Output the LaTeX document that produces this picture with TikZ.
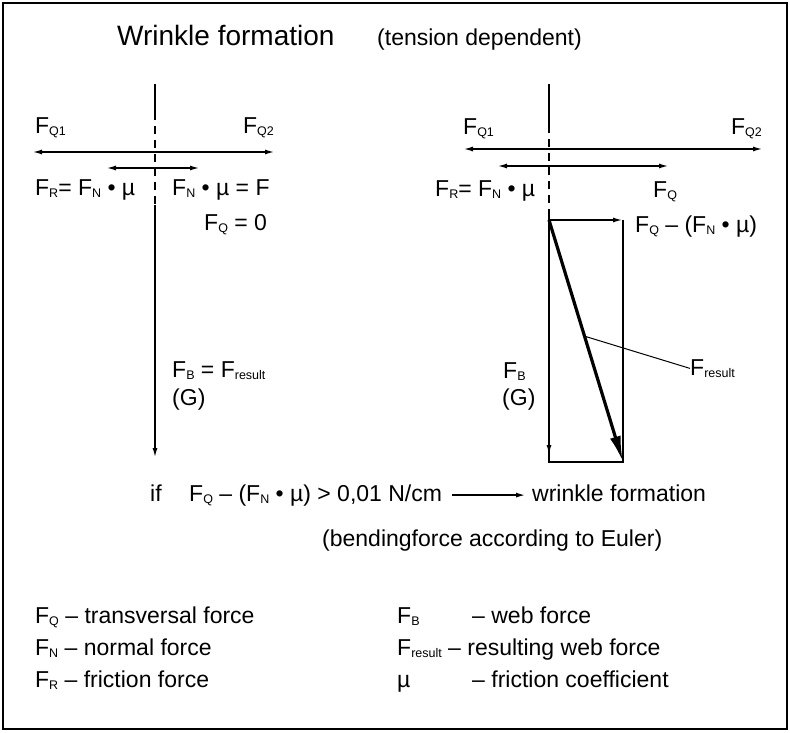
\documentclass[tikz,border=0pt]{standalone}
\usepackage{fontspec}
\setmainfont{Liberation Sans}
\usepackage{tikz}
\usetikzlibrary{arrows.meta, positioning, calc}

% lowered small index for force symbols
\newcommand{\ix}[1]{\raisebox{-2.5pt}{\fontsize{12.5}{12.5}\selectfont #1}}

\begin{document}
\begin{tikzpicture}[
  x=1pt, y=-1pt,
  every node/.style={font=\fontsize{23}{27}\selectfont, inner sep=0pt},
  txt/.style={anchor=base west},
  txtr/.style={anchor=base east},
  axisline/.style={line width=1.8pt},
  midline/.style={line width=1.8pt, dash pattern=on 8pt off 6pt},
  force/.style={-{Latex[length=10pt,width=5pt]}, line width=1.8pt},
  resultant/.style={-{Latex[length=26pt,width=11pt]}, line width=3.2pt},
  leader/.style={line width=1pt},
]
\useasboundingbox (0,0) rectangle (790,732);

% Frame
\draw[line width=1.8pt] (3,3) rectangle (787,729);

% Title
\node[txt, font=\fontsize{28}{32}\selectfont] (title) at (117,45) {Wrinkle formation};
\node[txt] (tension) at (377,45) {(tension dependent)};

% Left diagram: web axis and forces
\coordinate (Ltop) at (155,84);
\coordinate (Ld1) at (155,112);
\coordinate (Ld2) at (155,205);
\coordinate (Lbot) at (155,458);
\coordinate (Lq) at (155,152);
\coordinate (Lf) at (155,168);
\coordinate (Lq1) at (32,152);
\coordinate (Lq2) at (275,152);
\coordinate (Lr1) at (106,168);
\coordinate (Lr2) at (200,168);

\draw[axisline] (Ltop) -- (Ld1);
\draw[midline] (Ld1) -- (Ld2);
\draw[force] (Ld2) -- (Lbot);
\draw[force] (Lq) -- (Lq1);
\draw[force] (Lq) -- (Lq2);
\draw[force] (Lf) -- (Lr1);
\draw[force] (Lf) -- (Lr2);

\node[txt] (lq1) at (35,133) {F\ix{Q1}};
\node[txtr] (lq2) at (274,133) {F\ix{Q2}};
\node[txt] (lfr) at (35,195) {F\ix{R}= F\ix{N} • µ};
\node[txt] (lfn) at (172,195) {F\ix{N} • µ = F};
\node[txt] (lfq) at (204,230) {F\ix{Q} = 0};
\node[txt] (lfb) at (172,377) {F\ix{B} = F\ix{result}};
\node[txt] (lg) at (172,405) {(G)};

% Right diagram: web axis, forces and parallelogram
\coordinate (Rtop) at (549,84);
\coordinate (Rd1) at (549,125);
\coordinate (Rd2) at (549,215);
\coordinate (Rbot) at (549,455);
\coordinate (Rq) at (549,149);
\coordinate (Rf) at (549,166);
\coordinate (Rq1) at (463,149);
\coordinate (Rq2) at (763,149);
\coordinate (Rr1) at (497,166);
\coordinate (Rr2) at (669,166);
\coordinate (boxtl) at (549,220);
\coordinate (boxtr) at (623,220);
\coordinate (boxbr) at (623,462);
\coordinate (boxbl) at (549,462);

\draw[axisline] (Rtop) -- (Rd1);
\draw[midline] (Rd1) -- (Rd2);
\draw[axisline] (Rd2) -- (boxbl) -- (boxbr) -- (boxtr);
\draw[force] (Rd2) -- (Rbot);
\draw[force] (Rq) -- (Rq1);
\draw[force] (Rq) -- (Rq2);
\draw[force] (Rf) -- (Rr1);
\draw[force] (Rf) -- (Rr2);
\draw[force] (boxtl) -- (boxtr);
\draw[resultant] (boxtl) -- (boxbr);

\node[txt] (rq1) at (463,134) {F\ix{Q1}};
\node[txtr] (rq2) at (762,134) {F\ix{Q2}};
\node[txt] (rfr) at (435,196) {F\ix{R}= F\ix{N} • µ};
\node[txt] (rfq) at (653,197) {F\ix{Q}};
\node[txt] (rdiff) at (635,232) {F\ix{Q} – (F\ix{N} • µ)};
\node[txt] (rres) at (690,375) {F\ix{result}};
\node[txt] (rfb) at (503,378) {F\ix{B}};
\node[txt] (rg) at (502,405) {(G)};

\coordinate (lead) at ($(boxtl)!0.48!(boxbr)$);
\draw[leader] (lead) -- (rres.west);

% Condition for wrinkles
\node[txt] (if) at (150,501) {if};
\node[txt] (cond) at (189,501) {F\ix{Q} – (F\ix{N} • µ) > 0,01 N/cm};
\node[txt] (wrinkle) at (532,501) {wrinkle formation};
\coordinate (arrend) at (cond.east -| wrinkle.west);
\draw[force] ([xshift=10pt]cond.east) -- ([xshift=-6pt]arrend);
\node[txt] (euler) at (322,546) {(bendingforce according to Euler)};

% Legend
\node[txt] (kq) at (35,623) {F\ix{Q} – transversal force};
\node[txt] (kn) at (35,655) {F\ix{N} – normal force};
\node[txt] (kr) at (35,687) {F\ix{R} – friction force};
\node[txt] (kb) at (397,623) {F\ix{B}};
\node[txt] (kbd) at (472,623) {– web force};
\node[txt] (kres) at (397,655) {F\ix{result} – resulting web force};
\node[txt] (kmu) at (397,687) {µ};
\node[txt] (kmud) at (472,687) {– friction coefficient};

\end{tikzpicture}
\end{document}
